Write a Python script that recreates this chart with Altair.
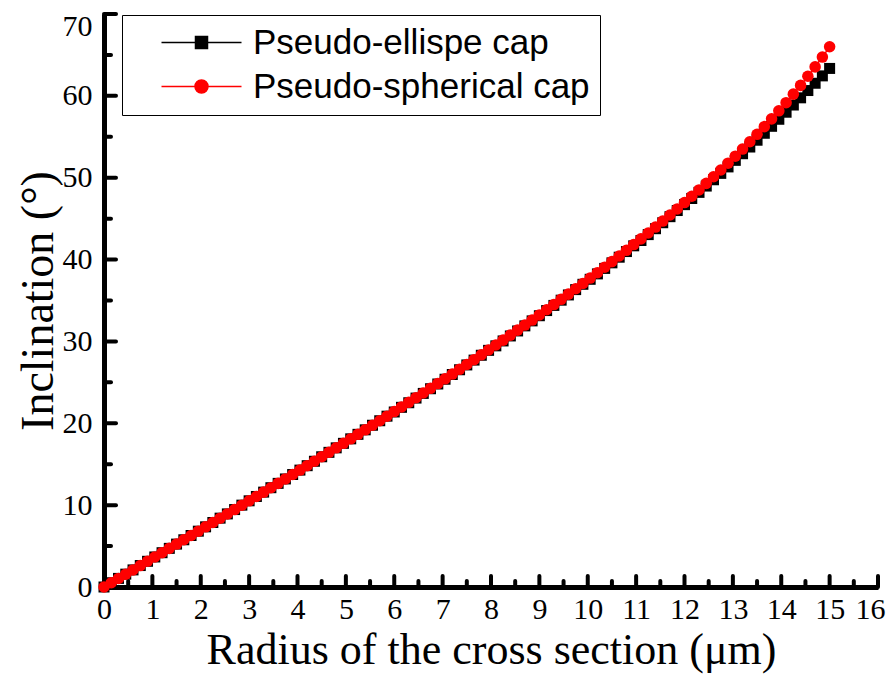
import altair as alt
import pandas as pd

radius = [0.00, 0.15, 0.30, 0.45, 0.60, 0.75, 0.90, 1.05, 1.20, 1.35,
          1.50, 1.65, 1.80, 1.95, 2.10, 2.25, 2.40, 2.55, 2.70, 2.85,
          3.00, 3.15, 3.30, 3.45, 3.60, 3.75, 3.90, 4.05, 4.20, 4.35,
          4.50, 4.65, 4.80, 4.95, 5.10, 5.25, 5.40, 5.55, 5.70, 5.85,
          6.00, 6.15, 6.30, 6.45, 6.60, 6.75, 6.90, 7.05, 7.20, 7.35,
          7.50, 7.65, 7.80, 7.95, 8.10, 8.25, 8.40, 8.55, 8.70, 8.85,
          9.00, 9.15, 9.30, 9.45, 9.60, 9.75, 9.90, 10.05, 10.20, 10.35,
          10.50, 10.65, 10.80, 10.95, 11.10, 11.25, 11.40, 11.55, 11.70, 11.85,
          12.00, 12.15, 12.30, 12.45, 12.60, 12.75, 12.90, 13.05, 13.20, 13.35,
          13.50, 13.65, 13.80, 13.95, 14.10, 14.25, 14.40, 14.55, 14.70, 14.85,
          15.00]

ellipse = [0.00, 0.52, 1.05, 1.57, 2.09, 2.62, 3.14, 3.67, 4.19, 4.72,
           5.24, 5.77, 6.29, 6.82, 7.35, 7.88, 8.41, 8.93, 9.46, 10.00,
           10.53, 11.06, 11.59, 12.13, 12.66, 13.20, 13.74, 14.28, 14.82, 15.36,
           15.91, 16.45, 17.00, 17.55, 18.10, 18.65, 19.20, 19.76, 20.31, 20.87,
           21.38, 21.95, 22.51, 23.08, 23.65, 24.22, 24.80, 25.38, 25.96, 26.54,
           27.13, 27.72, 28.31, 28.91, 29.46, 30.06, 30.67, 31.28, 31.90, 32.51,
           33.14, 33.77, 34.40, 35.04, 35.68, 36.33, 36.98, 37.59, 38.25, 38.92,
           39.60, 40.29, 40.98, 41.68, 42.33, 43.05, 43.77, 44.50, 45.24, 45.99,
           46.71, 47.46, 48.21, 48.98, 49.75, 50.53, 51.32, 52.12, 52.93, 53.75,
           54.58, 55.43, 56.28, 57.14, 58.00, 58.88, 59.76, 60.65, 61.54, 62.44,
           63.35]

spherical = [0.00, 0.52, 1.05, 1.57, 2.09, 2.62, 3.14, 3.67, 4.19, 4.72,
             5.24, 5.77, 6.29, 6.82, 7.35, 7.88, 8.41, 8.93, 9.46, 10.00,
             10.53, 11.06, 11.59, 12.13, 12.66, 13.20, 13.74, 14.28, 14.82, 15.36,
             15.91, 16.45, 17.00, 17.55, 18.10, 18.65, 19.20, 19.76, 20.31, 20.87,
             21.43, 22.00, 22.56, 23.13, 23.70, 24.27, 24.85, 25.43, 26.01, 26.59,
             27.18, 27.77, 28.36, 28.96, 29.56, 30.16, 30.77, 31.38, 32.00, 32.61,
             33.24, 33.87, 34.50, 35.14, 35.78, 36.43, 37.08, 37.74, 38.40, 39.07,
             39.75, 40.44, 41.13, 41.83, 42.53, 43.25, 43.97, 44.70, 45.44, 46.19,
             46.96, 47.73, 48.51, 49.31, 50.12, 50.94, 51.78, 52.63, 53.50, 54.39,
             55.30, 56.24, 57.19, 58.17, 59.17, 60.21, 61.28, 62.39, 63.54, 64.74,
             66.00]

series_names = ["Pseudo-ellispe cap", "Pseudo-spherical cap"]
series_colors = ["#000000", "#ff0000"]

x_major = [0, 1, 2, 3, 4, 5, 6, 7, 8, 9, 10, 11, 12, 13, 14, 15, 16]
x_minor = [0.5, 1.5, 2.5, 3.5, 4.5, 5.5, 6.5, 7.5, 8.5, 9.5, 10.5, 11.5, 12.5, 13.5, 14.5, 15.5]
y_major = [0, 10, 20, 30, 40, 50, 60, 70]
y_minor = [5, 15, 25, 35, 45, 55, 65]

x_title = "Radius of the cross section (μm)"
y_title = "Inclination (°)"

df = pd.DataFrame({
    "radius": radius + radius,
    "incl": ellipse + spherical,
    "series": [series_names[0]] * len(radius) + [series_names[1]] * len(radius),
})

W, H = 774, 573
SERIF = "Liberation Serif"
SANS = "Liberation Sans"

xs = alt.Scale(domain=[0, 16], nice=False, zero=False)
ys = alt.Scale(domain=[0, 70], nice=False, zero=False)

x_axis = alt.Axis(values=x_major, format="d", title=x_title, grid=False, ticks=False,
                  domain=True, domainColor="black", domainWidth=5,
                  labelFont=SERIF, labelFontSize=30, labelColor="black", labelPadding=7,
                  labelFlush=False, labelOverlap=False,
                  labelOffset={"condition": {"test": "datum.value == 16", "value": -8}, "value": 0},
                  titleFont=SERIF, titleFontSize=44, titleFontWeight="normal",
                  titleColor="black", titlePadding=4)
y_axis = alt.Axis(values=y_major, format="d", title=y_title, grid=False, ticks=False,
                  domain=True, domainColor="black", domainWidth=5,
                  labelFont=SERIF, labelFontSize=30, labelColor="black", labelPadding=12,
                  labelFlush=False, labelOverlap=False,
                  labelOffset={"condition": {"test": "datum.value == 70", "value": 12}, "value": 0},
                  titleFont=SERIF, titleFontSize=46, titleFontWeight="normal",
                  titleColor="black", titlePadding=0)


def X(field):
    return alt.X(field, type="quantitative", scale=xs, axis=x_axis)


def Y(field):
    return alt.Y(field, type="quantitative", scale=ys, axis=y_axis)


sq_path = "M-4,0H4M-0.6,-0.6H0.6V0.6H-0.6Z"
circ_path = "M-4,0H4M0.65,0A0.65,0.65,0,1,1,-0.65,0A0.65,0.65,0,1,1,0.65,0Z"

leg = alt.Legend(title=None, orient="none", legendX=18, legendY=1, padding=10,
                 strokeColor="black", fillColor="white",
                 labelFont=SANS, labelFontSize=35, labelColor="black", labelLimit=600,
                 symbolSize=400, symbolStrokeWidth=1.5, symbolOpacity=1,
                 symbolOffset=52, labelOffset=34, rowPadding=8)

legend_layer = alt.Chart(df).mark_point(filled=True, opacity=0).encode(
    x=X("radius"), y=Y("incl"),
    fill=alt.Fill("series:N", scale=alt.Scale(domain=series_names, range=series_colors), legend=leg),
    stroke=alt.Stroke("series:N", scale=alt.Scale(domain=series_names, range=series_colors), legend=leg),
    shape=alt.Shape("series:N", scale=alt.Scale(domain=series_names, range=[sq_path, circ_path]), legend=leg),
)

ell_base = alt.Chart(df).transform_filter(alt.datum.series == series_names[0])
sph_base = alt.Chart(df).transform_filter(alt.datum.series == series_names[1])

ell_line = ell_base.mark_line(color=series_colors[0], strokeWidth=1.5).encode(x=X("radius"), y=Y("incl"))
ell_pts = ell_base.mark_point(shape="square", filled=True, size=121, color=series_colors[0], opacity=1).encode(
    x=X("radius"), y=Y("incl"))
sph_line = sph_base.mark_line(color=series_colors[1], strokeWidth=1.5).encode(x=X("radius"), y=Y("incl"))
sph_pts = sph_base.mark_point(shape="circle", filled=True, size=133, color=series_colors[1], opacity=1).encode(
    x=X("radius"), y=Y("incl"))

xmaj = alt.Chart(pd.DataFrame({"v": x_major})).mark_rule(
    color="black", strokeWidth=4, strokeCap="round").encode(
    x=X("v"), y=alt.value(H), y2=alt.value(H - 11))
xmin = alt.Chart(pd.DataFrame({"v": x_minor})).mark_rule(
    color="black", strokeWidth=4, strokeCap="round").encode(
    x=X("v"), y=alt.value(H), y2=alt.value(H - 6))
ymaj = alt.Chart(pd.DataFrame({"v": y_major})).mark_rule(
    color="black", strokeWidth=4, strokeCap="round").encode(
    y=Y("v"), x=alt.value(0), x2=alt.value(12))
ymin = alt.Chart(pd.DataFrame({"v": y_minor})).mark_rule(
    color="black", strokeWidth=4, strokeCap="round").encode(
    y=Y("v"), x=alt.value(0), x2=alt.value(7))

chart = alt.layer(
    xmaj, xmin, ymaj, ymin, ell_line, ell_pts, sph_line, sph_pts, legend_layer
).properties(
    width=W, height=H,
    autosize=alt.AutoSizeParams(type="none"),
    padding={"left": 96, "top": 6, "right": 8, "bottom": 90},
    background="white",
).configure_view(stroke=None)

chart.save("out.html", embed_options={"renderer": "svg", "actions": False})
